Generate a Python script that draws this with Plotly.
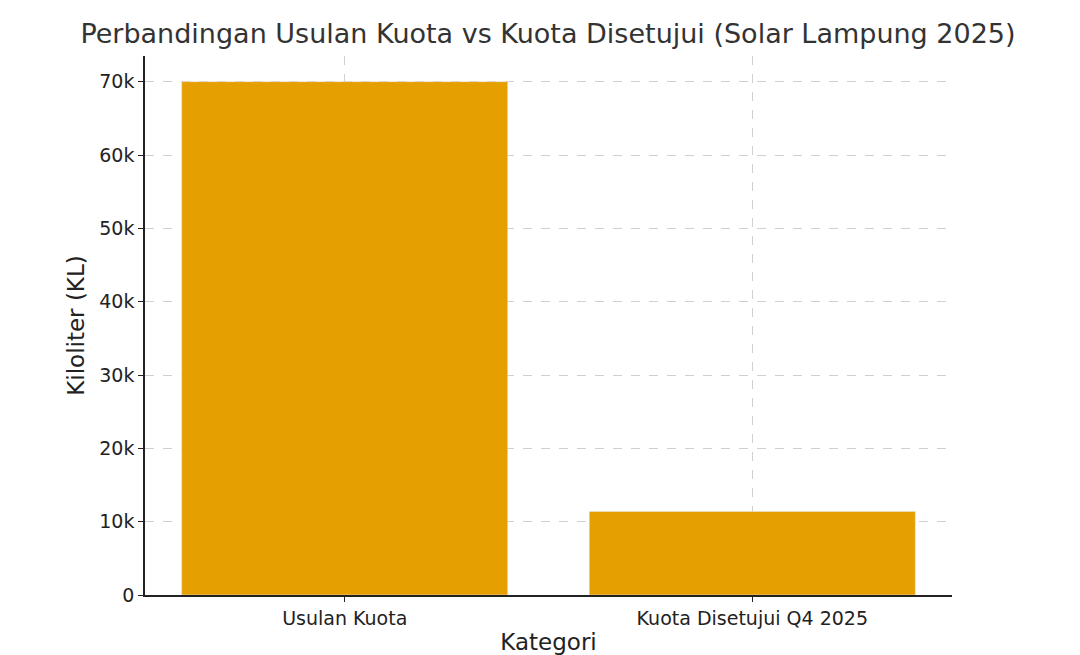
import plotly.graph_objects as go

categories = ["Usulan Kuota", "Kuota Disetujui Q4 2025"]
kiloliter = [70000, 11400]
tick_values = [0, 10000, 20000, 30000, 40000, 50000, 60000, 70000]

fig = go.Figure(go.Bar(x=[0, 1], y=kiloliter, width=0.8, marker_color="#E69F00"))

fig.update_layout(
    width=1080, height=655,
    paper_bgcolor="white", plot_bgcolor="white",
    font=dict(family="DejaVu Sans", size=19, color="#222"),
    title=dict(text="Perbandingan Usulan Kuota vs Kuota Disetujui (Solar Lampung 2025)",
               x=0.5, xanchor="center", y=0.975, yanchor="top",
               font=dict(size=27, color="#333")),
    margin=dict(l=137, r=136, t=48, b=59),
    showlegend=False,
)
fig.update_xaxes(
    range=[-0.49, 1.49], tickvals=[0, 1], ticktext=categories,
    title=dict(text="Kategori", standoff=6),
    showline=True, linecolor="#222", linewidth=1.5,
    ticks="outside", ticklen=5, tickcolor="#222",
    showgrid=True, gridcolor="#d0d0d0", griddash="dash", zeroline=False,
)
fig.update_yaxes(
    range=[0, 73500], tickvals=tick_values,
    title=dict(text="Kiloliter (KL)", standoff=8),
    showline=True, linecolor="#222", linewidth=1.5,
    ticks="outside", ticklen=5, tickcolor="#222",
    showgrid=True, gridcolor="#d0d0d0", griddash="dash", zeroline=False,
)

fig.write_html("out.html")
